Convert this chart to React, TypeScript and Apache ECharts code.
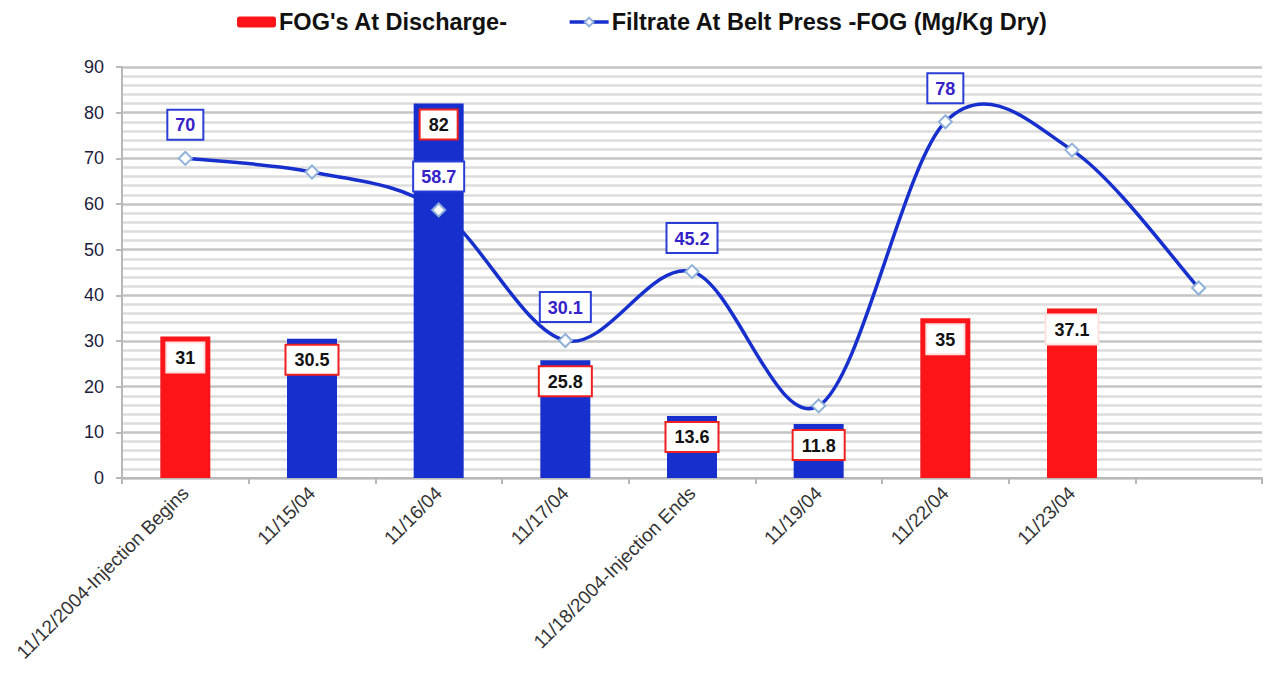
import React, { useEffect, useRef } from "react";
import * as echarts from "echarts";

const categories = [
  "11/12/2004-Injection Begins",
  "11/15/04",
  "11/16/04",
  "11/17/04",
  "11/18/2004-Injection Ends",
  "11/19/04",
  "11/22/04",
  "11/23/04",
  "",
];
const dischargeValues: (number | null)[] = [31, 30.5, 82, 25.8, 13.6, 11.8, 35, 37.1, null];
const dischargeIsRed = [true, false, false, false, false, false, true, true, false];
const filtrateValues = [70, 67, 58.7, 30.1, 45.2, 15.8, 78, 71.8, 41.6];
const filtrateLabelShown = [true, false, true, true, true, false, true, false, false];
const yTicks = { min: 0, max: 90, interval: 10 };

const FONT = "Arial, 'Liberation Sans', sans-serif";
const RED = "#fb1418";
const BLUE = "#172fcc";
const BAR_NAME = "FOG's At Discharge-";
const LINE_NAME = "Filtrate At Belt Press -FOG (Mg/Kg Dry)";

export default function App() {
  const ref = useRef<HTMLDivElement>(null);
  useEffect(() => {
    document.body.style.margin = "0";
    const chart = echarts.init(ref.current!, null, { renderer: "svg" });
    const barData = dischargeValues.map((v, i) =>
      v == null
        ? null
        : {
            value: v,
            itemStyle: { color: dischargeIsRed[i] ? RED : BLUE },
            label: {
              borderColor: dischargeIsRed[i] ? "#ffe0e0" : "#f02020",
            },
          }
    );
    const lineData = filtrateValues.map((v, i) => ({
      value: v,
      label: { show: filtrateLabelShown[i] },
    }));

    // Excel-like smoothed curve (Catmull-Rom through the data points), drawn via the axes' scales
    const renderCurve = (params: any, api: any) => {
      const pts = filtrateValues.map((v, i) => api.coord([i, v]));
      let d = `M${pts[0][0]},${pts[0][1]}`;
      for (let i = 0; i < pts.length - 1; i++) {
        const p0 = pts[Math.max(0, i - 1)];
        const p1 = pts[i];
        const p2 = pts[i + 1];
        const p3 = pts[Math.min(pts.length - 1, i + 2)];
        const c1x = p1[0] + (p2[0] - p0[0]) / 6;
        const c1y = p1[1] + (p2[1] - p0[1]) / 6;
        const c2x = p2[0] - (p3[0] - p1[0]) / 6;
        const c2y = p2[1] - (p3[1] - p1[1]) / 6;
        d += ` C${c1x},${c1y} ${c2x},${c2y} ${p2[0]},${p2[1]}`;
      }
      return {
        type: "path",
        shape: { pathData: d },
        style: { fill: "none", stroke: BLUE, lineWidth: 3.5 },
      };
    };

    chart.setOption({
      animation: false,
      textStyle: { fontFamily: FONT },
      legend: {
        top: 5,
        left: 232,
        itemWidth: 39,
        itemHeight: 11,
        itemGap: 60,
        textStyle: { fontSize: 23.5, fontWeight: "bold", color: "#111", fontFamily: FONT, padding: [0, 0, 0, -2] },
        data: [
          { name: BAR_NAME, itemStyle: { color: RED } },
          {
            name: LINE_NAME,
            lineStyle: { color: BLUE, width: 3.5, opacity: 1 },
            itemStyle: { color: "#fff", borderColor: "#8fb0d8", borderWidth: 2 },
          },
        ],
      },
      grid: { left: 122, right: 7, top: 67, bottom: 199, containLabel: false },
      xAxis: {
        type: "category",
        data: categories,
        boundaryGap: true,
        axisLine: { lineStyle: { color: "#b8b8b8", width: 2 } },
        axisTick: { show: true, length: 6, lineStyle: { color: "#b8b8b8", width: 2 } },
        axisLabel: {
          interval: 0,
          rotate: 45,
          fontSize: 19,
          color: "#333",
          fontFamily: FONT,
          margin: 12,
        },
      },
      yAxis: {
        type: "value",
        min: yTicks.min,
        max: yTicks.max,
        interval: yTicks.interval,
        axisLine: { show: true, lineStyle: { color: "#b8b8b8", width: 2 } },
        axisTick: { show: true, length: 6, lineStyle: { color: "#b8b8b8", width: 2 } },
        axisLabel: { fontSize: 18, color: "#1c1c3c", fontFamily: FONT, margin: 18 },
        splitLine: { show: true, lineStyle: { color: "#c4c4c4", width: 2.5 } },
        minorTick: { show: false, splitNumber: 5 },
        minorSplitLine: { show: true, lineStyle: { color: "#dcdcdc", width: 2.5 } },
      },
      series: [
        {
          name: BAR_NAME,
          type: "bar",
          barWidth: 50,
          itemStyle: { color: RED },
          data: barData,
          label: {
            show: true,
            position: "insideTop",
            distance: 7,
            fontSize: 18,
            lineHeight: 19,
            fontWeight: "bold",
            color: "#111",
            fontFamily: FONT,
            backgroundColor: "#fff",
            borderWidth: 2,
            padding: [5, 8, 4, 8],
          },
          z: 2,
        },
        {
          name: LINE_NAME + " curve",
          type: "custom",
          data: [0],
          renderItem: renderCurve,
          silent: true,
          z: 3,
        },
        {
          name: LINE_NAME,
          type: "line",
          data: lineData,
          lineStyle: { color: BLUE, width: 3, opacity: 0 },
          itemStyle: { color: "#fff", borderColor: "#8fb0d8", borderWidth: 2 },
          symbol: "diamond",
          symbolSize: 13,
          label: {
            show: false,
            position: "top",
            distance: 12,
            fontSize: 18,
            lineHeight: 19,
            fontWeight: "bold",
            color: "#3522c8",
            fontFamily: FONT,
            backgroundColor: "#fff",
            borderColor: "#2a3ed6",
            borderWidth: 2,
            padding: [5, 7, 4, 7],
          },
          z: 4,
        },
      ],
    });
    return () => chart.dispose();
  }, []);
  return <div ref={ref} style={{ width: 1269, height: 677 }} />;
}
